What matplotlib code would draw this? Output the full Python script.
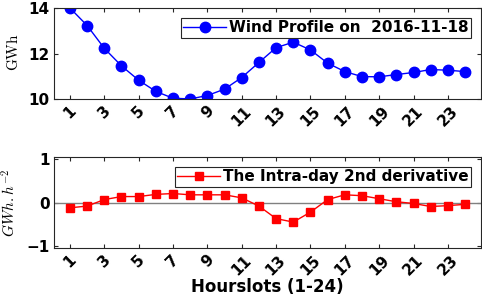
import matplotlib
matplotlib.use("Agg")
import matplotlib.pyplot as plt

# hourly wind energy profile and its intra-day 2nd derivative
hours = list(range(1, 25))
wind_gwh = [14.00, 13.23, 12.23, 11.46, 10.83, 10.34, 10.04, 10.01, 10.16, 10.44,
            10.95, 11.61, 12.26, 12.50, 12.16, 11.58, 11.21, 10.99, 10.98, 11.08,
            11.17, 11.30, 11.27, 11.21]
second_deriv = [-0.12, -0.08, 0.07, 0.14, 0.14, 0.19, 0.21, 0.18, 0.18, 0.18,
                0.11, -0.08, -0.37, -0.45, -0.22, 0.07, 0.18, 0.16, 0.09, 0.02,
                -0.02, -0.09, -0.07, -0.04]
xticks = list(range(1, 25, 2))

plt.rcParams['mathtext.fontset'] = 'cm'
plt.rcParams['font.family'] = 'DejaVu Sans'

fig = plt.figure(figsize=(4.82, 2.96), dpi=100)
ax1 = fig.add_axes([0.112, 0.665, 0.886, 0.308])
ax2 = fig.add_axes([0.112, 0.162, 0.886, 0.307])

# top panel: wind profile
ax1.plot(hours, wind_gwh, color='#0000ff', marker='o', markersize=7.5, linewidth=1,
         label='Wind Profile on  2016-11-18')
ax1.set_ylim(10, 14)
ax1.set_yticks([10, 12, 14])
ax1.set_ylabel(r'$\mathrm{GWh}$', fontsize=11)
ax1.yaxis.set_label_coords(-0.078, 0.52)

# bottom panel: second derivative
ax2.axhline(0, color='#808080', linewidth=1)
ax2.plot(hours, second_deriv, color='#ff0000', marker='s', markersize=6, linewidth=1,
         label='The Intra-day 2nd derivative')
ax2.set_ylim(-1.05, 1.05)
ax2.set_yticks([-1, 0, 1])
ax2.set_ylabel(r'$GWh.h^{-2}$', fontsize=11)
ax2.yaxis.set_label_coords(-0.082, 0.5)
ax2.set_xlabel('Hourslots (1-24)', fontsize=12, fontweight='bold', labelpad=0)

for ax in (ax1, ax2):
    ax.set_xlim(0.07, 24.93)
    ax.set_xticks(xticks)
    ax.set_xticklabels([str(t) for t in xticks], rotation=45, fontweight='bold', fontsize=11)
    for lbl in ax.get_yticklabels():
        lbl.set_fontweight('bold')
        lbl.set_fontsize(11)
    ax.tick_params(direction='in', top=True, right=True, length=3, color='#262626', pad=3)
    for s in ax.spines.values():
        s.set_color('#262626')
        s.set_linewidth(0.8)
    leg = ax.legend(loc='upper right', prop={'weight': 'bold', 'size': 11},
                    fancybox=False, framealpha=1, edgecolor='#262626',
                    borderpad=0.15, handlelength=2.8, handletextpad=0.2,
                    borderaxespad=0.65)
    leg.get_frame().set_linewidth(0.8)

fig.savefig('out.png', dpi=100)
